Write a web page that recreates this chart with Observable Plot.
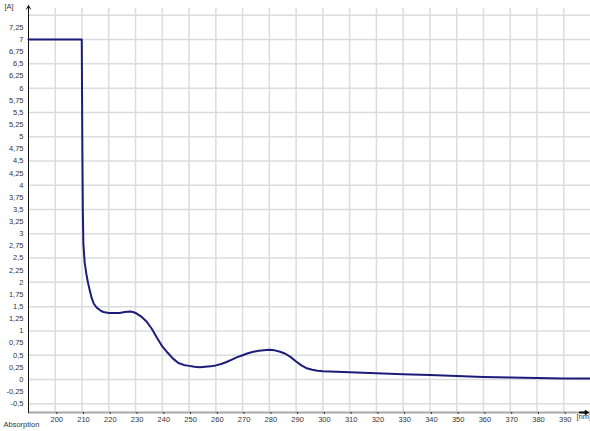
<!DOCTYPE html>
<html><head><meta charset="utf-8">
<script src="https://cdn.jsdelivr.net/npm/d3@7"></script>
<script src="https://cdn.jsdelivr.net/npm/@observablehq/plot@0.6"></script>
<style>body{margin:0;background:#fff}#chart svg{display:block}</style>
</head><body><div id="chart"></div>
<script>
const wavelength = [190, 209.9, 210.1, 210.3, 210.5, 211, 211.6, 212.2, 212.9, 213.6, 214.4, 215.5, 216.9, 218, 220, 222, 224, 226, 228, 229, 230, 232, 234, 236, 238, 240, 242, 244, 246, 248, 250, 252, 254, 256, 258, 260, 262, 264, 266, 268, 270, 272, 274, 276, 278, 280, 282, 284, 286, 288, 290, 292, 294, 296, 298, 300, 310, 320, 330, 340, 350, 360, 370, 380, 390, 400];
const absorbance = [7.0, 7.0, 5.0, 3.5, 2.8, 2.4, 2.18, 2.0, 1.83, 1.68, 1.56, 1.48, 1.42, 1.39, 1.37, 1.37, 1.37, 1.39, 1.40, 1.39, 1.37, 1.30, 1.20, 1.05, 0.86, 0.68, 0.55, 0.43, 0.34, 0.30, 0.28, 0.26, 0.25, 0.26, 0.27, 0.29, 0.32, 0.36, 0.41, 0.46, 0.50, 0.54, 0.57, 0.59, 0.60, 0.61, 0.60, 0.57, 0.53, 0.46, 0.37, 0.29, 0.23, 0.20, 0.18, 0.17, 0.15, 0.13, 0.11, 0.09, 0.07, 0.05, 0.04, 0.03, 0.02, 0.02];
const xTicks = [200, 210, 220, 230, 240, 250, 260, 270, 280, 290, 300, 310, 320, 330, 340, 350, 360, 370, 380, 390];
const yTicks = [-0.5, -0.25, 0, 0.25, 0.5, 0.75, 1, 1.25, 1.5, 1.75, 2, 2.25, 2.5, 2.75, 3, 3.25, 3.5, 3.75, 4, 4.25, 4.5, 4.75, 5, 5.25, 5.5, 5.75, 6, 6.25, 6.5, 6.75, 7, 7.25];
const yGrid = [-0.5, 0, 0.5, 1, 1.5, 2, 2.5, 3, 3.5, 4, 4.5, 5, 5.5, 6, 6.5, 7, 7.5];
const xDomain = [190, 400];
const yDomain = [-0.68, 7.64];
const yUnit = "[A]";
const xUnit = "[nm]";
const footer = "Absorption";

const data = wavelength.map((w, i) => ({w, a: absorbance[i]}));
const fmt = d => String(d).replace(".", ",");

const chart = Plot.plot({
  width: 590, height: 431,
  marginLeft: 28, marginRight: 0, marginTop: 8, marginBottom: 19,
  style: {fontFamily: "Liberation Sans, Arial, sans-serif", fontSize: "7.5px", color: "#333", background: "#fff"},
  x: {domain: xDomain},
  y: {domain: yDomain},
  marks: [
    Plot.ruleY(yGrid, {stroke: "#dcdcdc", strokeWidth: 1.5}),
    Plot.ruleX(xTicks, {stroke: "#dcdcdc", strokeWidth: 1.5}),
    Plot.ruleY([yDomain[0]], {stroke: "#a8a8a8", strokeWidth: 2}),
    Plot.axisX({ticks: xTicks, tickSize: 2, tickPadding: 2, label: null, stroke: "#333", fill: "#333", dx: 1.5}),
    Plot.axisY({ticks: yTicks, tickSize: 0, tickPadding: 5, tickFormat: fmt, label: null, fill: "#333"}),
    Plot.arrow([0], {x1: () => xDomain[0], x2: () => xDomain[0], y1: () => yDomain[0], y2: () => yDomain[1] + 0.06, stroke: "#111", strokeWidth: 1, headLength: 6}),
    Plot.arrow([0], {x1: () => xDomain[1] - 4, x2: () => xDomain[1] - 1, y1: () => yDomain[0], y2: () => yDomain[0], stroke: "#111", strokeWidth: 2, headLength: 4}),
    Plot.line(data, {x: "w", y: "a", stroke: "#1c1c7a", strokeWidth: 2}),
    Plot.text([yUnit], {frameAnchor: "top-left", dx: -24, dy: -5, text: d => d, textAnchor: "start", fontSize: 7.5, fill: "#333"}),
    Plot.text([xUnit], {frameAnchor: "bottom-right", dx: -14, dy: 6, text: d => d, textAnchor: "start", fontSize: 7.5, fill: "#333"}),
    Plot.text([footer], {frameAnchor: "bottom-left", dx: -25, dy: 14, text: d => d, textAnchor: "start", fontSize: 7.5, fill: "#333"})
  ]
});
document.getElementById("chart").appendChild(chart);
</script>
</body></html>
